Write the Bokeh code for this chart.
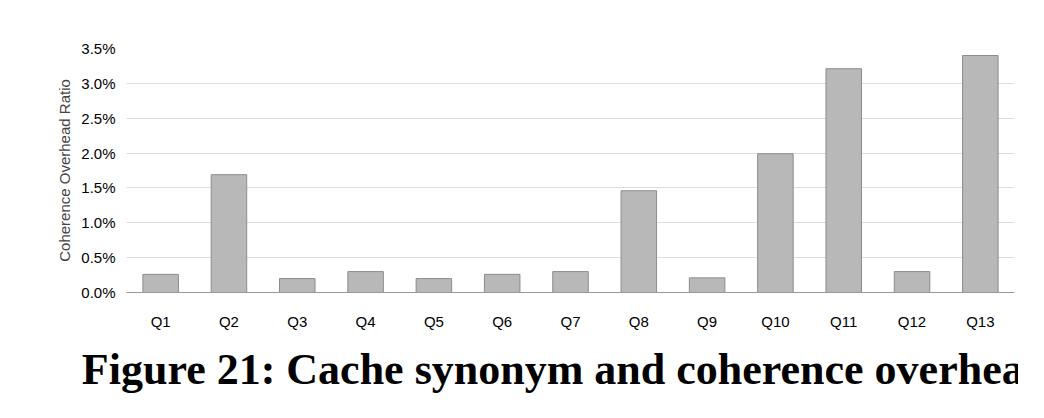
from bokeh.plotting import figure
from bokeh.models import Title, NumeralTickFormatter, FixedTicker
from bokeh.embed import file_html
from bokeh.resources import INLINE

queries = ["Q1","Q2","Q3","Q4","Q5","Q6","Q7","Q8","Q9","Q10","Q11","Q12","Q13"]
overhead = [0.0026,0.0169,0.0020,0.0030,0.0020,0.0026,0.0030,0.0146,0.0021,0.0199,0.0321,0.0030,0.0340]

p = figure(x_range=queries, y_range=(0, 0.035), output_backend="svg", toolbar_location=None,
           frame_width=888, frame_height=244, min_border_left=126, min_border_right=4,
           min_border_top=48, background_fill_color="white", border_fill_color="white",
           outline_line_color=None)
p.vbar(x=queries, top=overhead, width=0.52, fill_color="#b8b8b8", line_color="#8c8c8c", line_width=1)

p.yaxis.ticker = FixedTicker(ticks=[i*0.005 for i in range(8)])
p.yaxis.formatter = NumeralTickFormatter(format="0.0%")
p.yaxis.axis_label = "Coherence Overhead Ratio"
for ax in (p.xaxis, p.yaxis):
    ax.major_label_text_font = "Liberation Sans"
    ax.major_label_text_font_size = "15px"
    ax.major_label_text_color = "black"
    ax.major_tick_line_color = None
    ax.minor_tick_line_color = None
p.yaxis.axis_line_color = None
p.xaxis.axis_line_color = "#999999"
p.xaxis.major_label_standoff = 14
p.yaxis.axis_label_text_font = "Liberation Sans"
p.yaxis.axis_label_text_font_size = "15px"
p.yaxis.axis_label_text_font_style = "normal"
p.xgrid.grid_line_color = None
p.ygrid.grid_line_color = "#dddddd"

cap = Title(text="Figure 21: Cache synonym and coherence overhead.", align="center",
            text_font="Liberation Serif", text_font_size="44px", text_font_style="bold",
            text_color="black", standoff=20)
p.add_layout(cap, "below")

open("out.html", "w").write(file_html(p, INLINE))
